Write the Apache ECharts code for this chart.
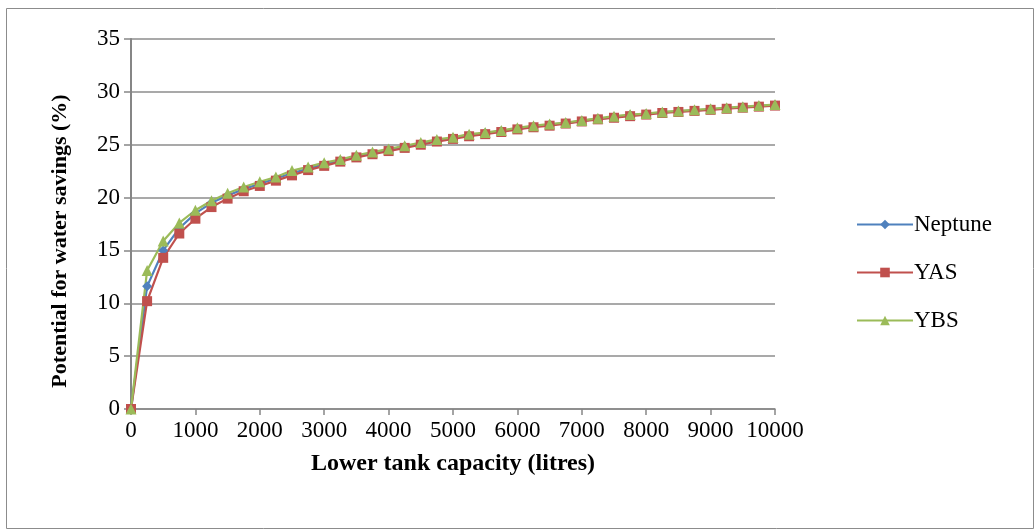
<!DOCTYPE html>
<html>
<head>
<meta charset="utf-8">
<script src="https://cdn.jsdelivr.net/npm/echarts@6/dist/echarts.min.js"></script>
<style>html,body{margin:0;padding:0;background:#fff}#c{width:1036px;height:532px}</style>
</head>
<body>
<div id="c"></div>
<script>
const capacities = [0,250,500,750,1000,1250,1500,1750,2000,2250,2500,2750,3000,3250,3500,3750,4000,4250,4500,4750,5000,5250,5500,5750,6000,6250,6500,6750,7000,7250,7500,7750,8000,8250,8500,8750,9000,9250,9500,9750,10000];
const neptune = [0,11.6,15.0,17.1,18.5,19.5,20.2,20.8,21.3,21.8,22.3,22.75,23.15,23.5,23.9,24.2,24.5,24.8,25.1,25.4,25.6,25.9,26.1,26.3,26.5,26.7,26.9,27.05,27.25,27.45,27.6,27.8,27.9,28.05,28.15,28.25,28.35,28.45,28.55,28.65,28.75];
const yas = [0,10.2,14.3,16.6,18.0,19.1,19.9,20.6,21.1,21.6,22.1,22.6,23.0,23.4,23.8,24.1,24.4,24.7,25.0,25.3,25.55,25.8,26.0,26.2,26.45,26.65,26.8,27.0,27.2,27.4,27.55,27.7,27.85,28.0,28.1,28.2,28.3,28.4,28.5,28.6,28.7];
const ybs = [0,13.1,15.9,17.6,18.8,19.7,20.4,21.0,21.5,21.95,22.55,22.9,23.3,23.6,24.0,24.3,24.6,24.9,25.2,25.5,25.7,26.0,26.15,26.35,26.6,26.8,26.95,27.1,27.3,27.5,27.7,27.85,27.95,28.1,28.2,28.3,28.4,28.5,28.6,28.7,28.8];
const seriesNames = ['Neptune','YAS','YBS'];
const xTitle = 'Lower tank capacity (litres)';
const yTitle = 'Potential for water savings (%)';

const font = '"Liberation Serif", "DejaVu Serif", serif';
const pair = arr => capacities.map((c,i)=>[c,arr[i]]);
const mk = (name, data, color, symbol, size) => ({
  name, type:'line', data: pair(data), symbol, symbolSize: size,
  lineStyle:{color, width:2.2}, itemStyle:{color}, animation:false
});
const chart = echarts.init(document.getElementById('c'), null, {renderer:'canvas'});
chart.setOption({
  animation:false,
  backgroundColor:'#fff',
  graphic:[
    {type:'rect', left:4, top:6, shape:{width:1027, height:520}, style:{fill:'none', stroke:'#8c8c8c', lineWidth:1}},
    {type:'text', x:60, y:241, rotation:Math.PI/2,
     style:{text:yTitle, fontFamily:font, fontSize:22, fontWeight:'bold', fill:'#000', align:'center', verticalAlign:'middle'}}
  ],
  grid:{left:131, right:261, top:39, bottom:123, containLabel:false},
  legend:{
    orient:'vertical', left:851, top:208, itemGap:25, itemWidth:56, itemHeight:12,
    textStyle:{fontFamily:font, fontSize:23, color:'#000', padding:[0,0,0,-4]},
    data: seriesNames
  },
  xAxis:{
    type:'value', min:0, max:10000, interval:1000,
    name:xTitle, nameLocation:'middle', nameGap:43,
    nameTextStyle:{fontFamily:font, fontSize:24, fontWeight:'bold', color:'#000'},
    axisLine:{lineStyle:{color:'#868686', width:1.5}},
    axisTick:{show:true, length:6, lineStyle:{color:'#868686', width:1.5}},
    axisLabel:{fontFamily:font, fontSize:23, color:'#000', margin:10, formatter: v => String(v)},
    splitLine:{show:false}
  },
  yAxis:{
    type:'value', min:0, max:35, interval:5,
    axisLine:{show:true, lineStyle:{color:'#868686', width:2}},
    axisTick:{show:true, length:7, lineStyle:{color:'#868686', width:1.5}},
    axisLabel:{fontFamily:font, fontSize:23, color:'#000', margin:11},
    splitLine:{show:true, lineStyle:{color:'#8c8c8c', width:1.5}}
  },
  series:[
    mk(seriesNames[0], neptune, '#4F81BD', 'diamond', 10),
    mk(seriesNames[1], yas, '#C0504D', 'rect', 10),
    mk(seriesNames[2], ybs, '#9BBB59', 'triangle', 11)
  ]
});
</script>
</body>
</html>
